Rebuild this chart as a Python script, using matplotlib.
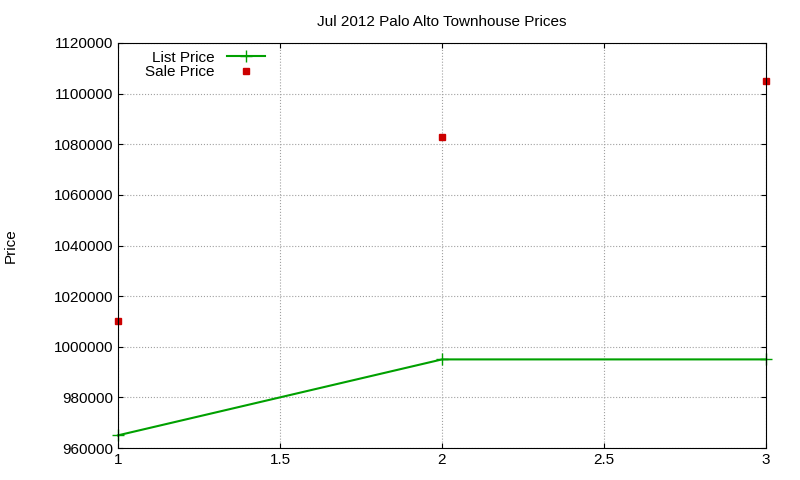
import matplotlib
matplotlib.use('Agg')
from matplotlib import pyplot as plt

plt.rcParams['font.family'] = ['Liberation Sans', 'DejaVu Sans']

x = [1, 2, 3]
list_price = [965000, 995000, 995000]
sale_price = [1010000, 1083000, 1105000]
y_ticks = list(range(960000, 1120001, 20000))

fig = plt.figure(figsize=(8, 4.8), dpi=100)
ax = fig.add_axes([118 / 800, 1 - 448 / 480, (766 - 118) / 800, (448 - 43) / 480])
ax.plot(x, list_price, color='#00a000', marker='+', markersize=8, lw=1.5, label='List Price', clip_on=False)
ax.plot(x, sale_price, color='#cc0000', marker='s', markersize=5, ls='none', label='Sale Price', clip_on=False)
ax.set_xlim(1, 3)
ax.set_ylim(960000, 1120000)
ax.set_xticks([1, 1.5, 2, 2.5, 3])
ax.set_xticklabels(['1', '1.5', '2', '2.5', '3'])
ax.set_yticks(y_ticks)
ax.set_yticklabels([str(v) for v in y_ticks])
ax.grid(True, color='#a0a0a0', ls=':', lw=0.8)
ax.tick_params(direction='in', labelsize=11, top=True, right=True)
ax.set_ylabel('Price', fontsize=11)
ax.yaxis.set_label_coords(-0.155, 0.5)
ax.set_title('Jul 2012 Palo Alto Townhouse Prices', fontsize=11, pad=12)
ax.legend(loc='upper left', bbox_to_anchor=(0.03, 1.0), frameon=False, fontsize=11,
          markerfirst=False, handlelength=2.5, borderaxespad=0.1, labelspacing=0.05)
fig.savefig('out.png', dpi=100)
